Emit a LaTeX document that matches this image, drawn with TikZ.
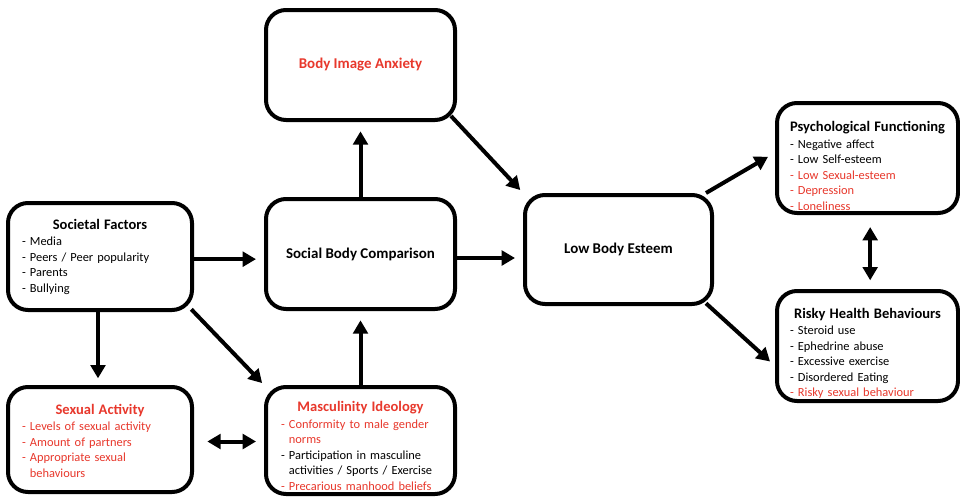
\documentclass[tikz,border=0pt]{standalone}
\usepackage{fontspec}
\setmainfont{Carlito}
\usetikzlibrary{arrows.meta}
\definecolor{myred}{RGB}{232,56,44}
\newcommand{\boxtitle}[1]{\makebox[\linewidth]{\fontsize{10.9}{12}\selectfont\bfseries #1}\par\vspace{0.8pt}}
\newcommand{\rd}[1]{\textcolor{myred}{#1}}
\begin{document}
\begin{tikzpicture}[x=0.75pt,y=-0.75pt,
  box/.style={draw, line width=3pt, rounded corners=15pt, inner sep=0pt, fill=white},
  listtext/.style={inner sep=0pt, align=left, font=\fontsize{9.3}{11.6}\selectfont},
  centbox/.style={box, align=center, font=\fontsize{11.2}{13}\selectfont\bfseries},
  arr/.style={line width=3pt, -{Triangle[length=10pt,width=11pt]}},
  darr/.style={line width=3pt, {Triangle[length=10pt,width=11pt]}-{Triangle[length=10pt,width=11pt]}}]
\useasboundingbox (0,0) rectangle (960,500);

\node[centbox, minimum width=141.75pt, minimum height=82.5pt, text=myred] (bia) at (360.5,65) {\raisebox{-1.5pt}{Body Image Anxiety}};
\node[centbox, minimum width=141.75pt, minimum height=82.5pt] (sbc) at (360.5,254) {\raisebox{-0.8pt}{Social Body Comparison}};
\node[centbox, minimum width=140.25pt, minimum height=81.75pt] (lbe) at (618.5,249.5) {\raisebox{-1.5pt}{Low Body Esteem}};

\node[box, minimum width=138pt, minimum height=80.25pt] (sf) at (100,256.5) {};
\node[listtext, text width=117pt] (sft) at (sf.center)
  {\boxtitle{Societal Factors}- Media\\- Peers / Peer popularity\\- Parents\\- Bullying};
\node[box, minimum width=138pt, minimum height=78.75pt] (sa) at (100,439.5) {};
\node[listtext, text width=117pt, text=myred] (sat) at ([yshift=-0.8pt]sa.center)
  {\boxtitle{Sexual Activity}- Levels of sexual activity\\- Amount of partners\\- Appropriate sexual\\\phantom{- }behaviours};
\node[box, minimum width=141.75pt, minimum height=80.25pt] (mi) at (360.5,440.5) {};
\node[listtext, text width=119.25pt] (mit) at ([yshift=-4.2pt]mi.center)
  {\boxtitle{\rd{Masculinity Ideology}}\rd{- Conformity to male gender}\\\rd{\phantom{- }norms}\\- Participation in masculine\\\phantom{- }activities / Sports / Exercise\\\rd{- Precarious manhood beliefs}};
\node[box, minimum width=135.75pt, minimum height=82.5pt] (pf) at (867.5,158) {};
\node[listtext, text width=116.25pt] (pft) at ([yshift=-6pt]pf.center)
  {\boxtitle{Psychological Functioning}- Negative affect\\- Low Self-esteem\\\rd{- Low Sexual-esteem}\\\rd{- Depression}\\\rd{- Loneliness}};
\node[box, minimum width=135.75pt, minimum height=82.5pt] (rhb) at (867.5,346) {};
\node[listtext, text width=116.25pt] (rhbt) at ([yshift=-5.5pt]rhb.center)
  {\boxtitle{Risky Health Behaviours}- Steroid use\\- Ephedrine abuse\\- Excessive exercise\\- Disordered Eating\\\rd{- Risky sexual behaviour}};

% connectors
\draw[arr, shorten >=6pt] ([yshift=-2pt]sf.east) -- ([yshift=-2pt]sf.east -| sbc.west);
\draw[arr, shorten >=2pt] ([xshift=-2pt,yshift=2pt]sf.south east) -- (mi.north west);
\draw[arr, shorten >=5pt] ([xshift=-1.5pt]sf.south) -- ([xshift=-1.5pt]sf.south |- sa.north);
\draw[darr, shorten <=10pt, shorten >=6pt] ([yshift=-1.5pt]sa.east) -- ([yshift=-1.5pt]sa.east -| mi.west);
\draw[arr, shorten >=7pt] (mi.north) -- (sbc.south);
\draw[arr, shorten >=7pt] (sbc.north) -- (bia.south);
\draw[arr, shorten >=3pt] ([xshift=-4.5pt,yshift=4.5pt]bia.south east) -- (lbe.north west);
\draw[arr, shorten >=6pt] ([yshift=-3pt]sbc.east) -- ([yshift=-3pt]sbc.east -| lbe.west);
\draw[arr, shorten >=6pt] ([xshift=-6pt]lbe.north east) -- ([yshift=4pt]pf.west);
\draw[arr, shorten >=5pt] ([xshift=-6pt,yshift=2pt]lbe.south east) -- ([yshift=-15pt]rhb.west);
\draw[darr, shorten <=9pt, shorten >=6.5pt] ([xshift=2pt]pf.south) -- ([xshift=2pt]pf.south |- rhb.north);
\end{tikzpicture}
\end{document}
